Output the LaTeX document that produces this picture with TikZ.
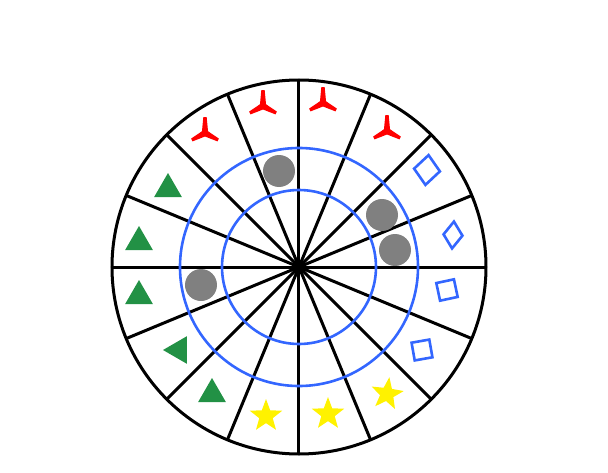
\documentclass[tikz,border=0pt]{standalone}
\usetikzlibrary{shapes.geometric}
\definecolor{ringblue}{RGB}{51,102,255}
\definecolor{trigreen}{RGB}{34,145,69}
\tikzset{
  spoke/.style={line width=3pt,black},
  ring/.style={line width=2.6pt,ringblue},
  greentri/.style={regular polygon,regular polygon sides=3,fill=trigreen,inner sep=0pt,minimum size=32pt},
  yellowstar/.style={star,star points=5,star point ratio=2.4,fill=yellow,inner sep=0pt,minimum size=34pt},
  bluesquare/.style={rectangle,draw=ringblue,line width=2.6pt,inner sep=0pt,minimum size=18pt},
  bluediamond/.style={diamond,draw=ringblue,line width=2.6pt,inner sep=0pt},
  graydot/.style={circle,fill=gray,inner sep=0pt,minimum size=32pt},
  tripod/.pic={\fill[red] (84:16) -- (96:16) -- (150:3.5) -- (202:15) -- (214:15) -- (270:3.5)
      -- (326:15) -- (338:15) -- (30:3.5) -- cycle;}
}
\begin{document}
\begin{tikzpicture}[x=1pt,y=1pt]
    \useasboundingbox (-299,-205) rectangle (309,267);
    \coordinate (O) at (0,0);
    % Speichen und Rand
    \foreach \a in {0,22.5,...,337.5}
      \draw[spoke] (O) -- (\a:187);
    \draw[spoke] (O) circle (187);
    % blaue Ringe
    \draw[ring] (O) circle (119);
    \draw[ring] (O) circle (77);
    % rote Dreibeine
    \foreach \p in {(-94,134),(-36,161),(24,164),(88,136)}
      \pic at \p {tripod};
    % gruene Dreiecke
    \foreach \p [count=\i] in {(-131,78),(-160,25),(-160,-29),(-87,-127)}
      \node[greentri] (tri\i) at \p {};
    \node[greentri,shape border rotate=90] (tri5) at (-120,-83) {};
    % gelbe Sterne
    \node[yellowstar] (star1) at (-33,-149) {};
    \node[yellowstar] (star2) at (29,-147) {};
    \node[yellowstar,rotate=-8] (star3) at (88,-127) {};
    % blaue Quadrate und Rauten
    \node[bluesquare,rotate=10] (sq1) at (123,-83) {};
    \node[bluesquare,rotate=12] (sq2) at (148,-23) {};
    \node[bluediamond,minimum width=20pt,minimum height=28pt,rotate=-4] (dia1) at (154,32) {};
    \node[bluediamond,minimum width=27pt,minimum height=31pt,rotate=-6] (dia2) at (128,97) {};
    % graue Punkte
    \foreach \p [count=\i] in {(-20,96),(83,52),(96,17),(-98,-18)}
      \node[graydot] (dot\i) at \p {};
\end{tikzpicture}
\end{document}
